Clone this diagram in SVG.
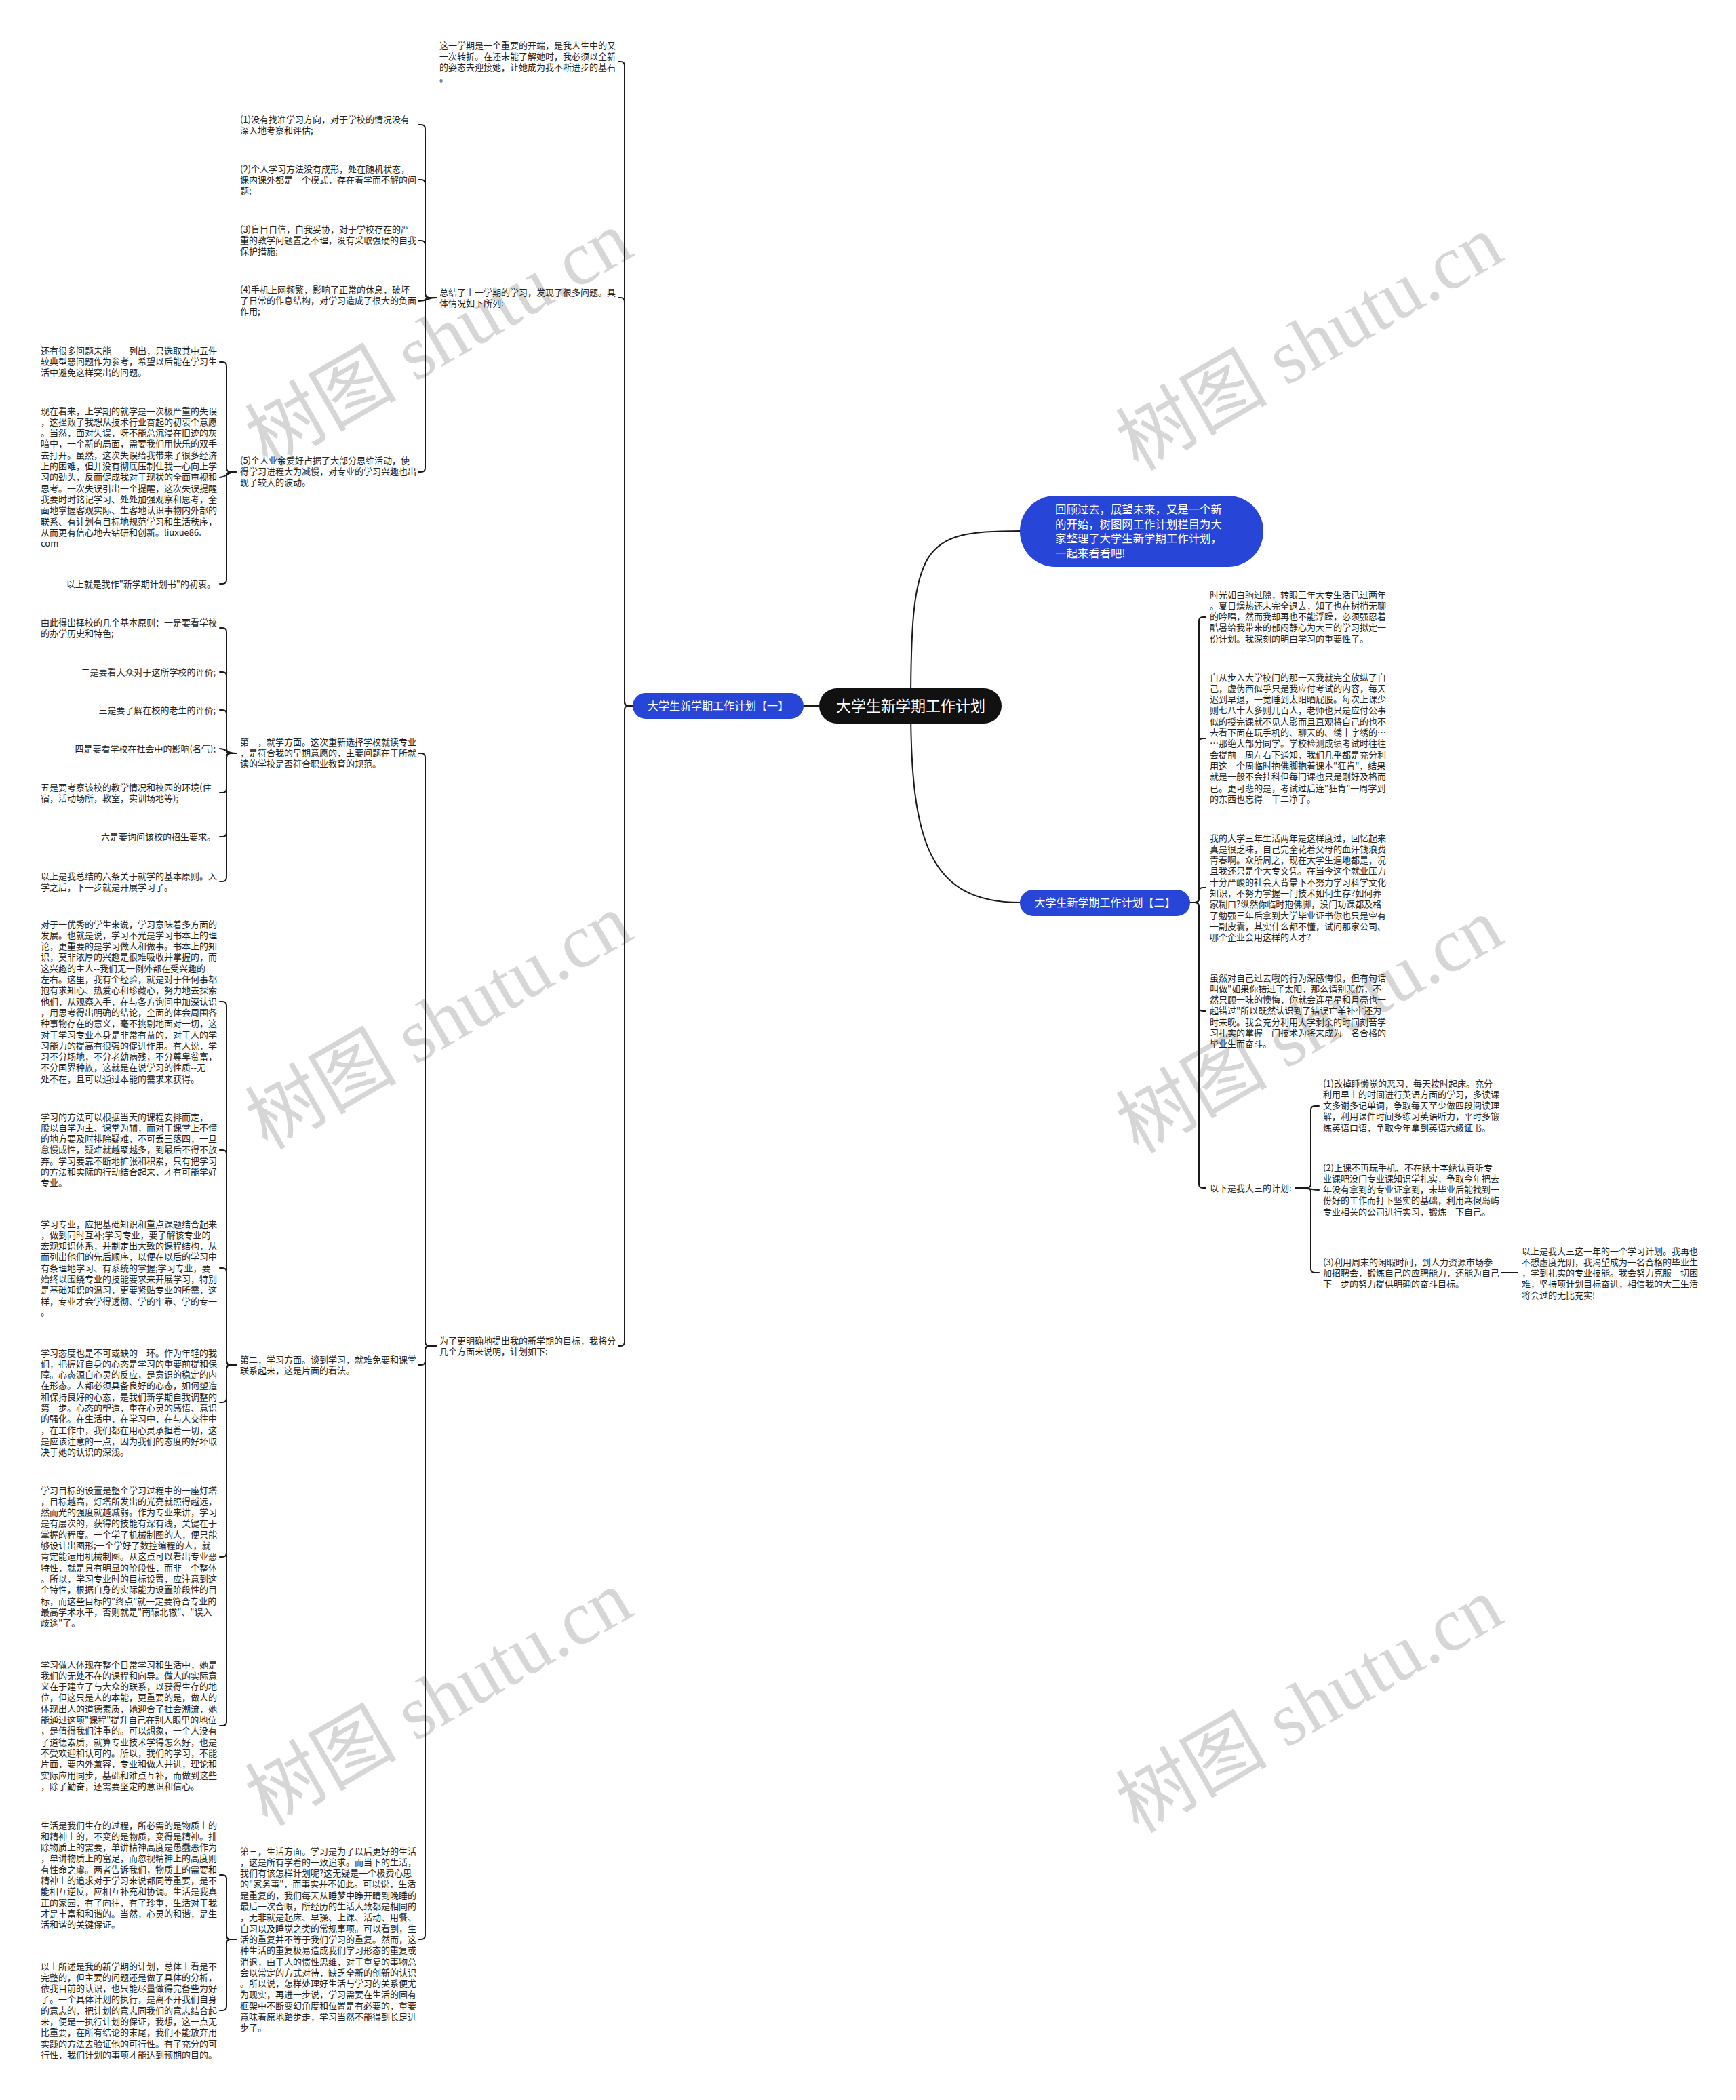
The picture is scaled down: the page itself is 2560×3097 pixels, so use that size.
<svg xmlns="http://www.w3.org/2000/svg" width="2560" height="3097" viewBox="0 0 2560 3097">
<style>
.bg{fill:#fff}
.wm{font-family:"Liberation Serif","Noto Sans CJK SC",serif;font-size:112px;fill:#d6d6d6;text-anchor:middle}
.t{font-family:"Noto Sans CJK SC","Liberation Sans",sans-serif;font-size:13px;fill:#222}
.e{text-anchor:end}
.c{fill:none;stroke:#1a1a1a;stroke-width:2;stroke-linecap:round}
.bn{fill:#2745d6}
.rn{fill:#111}
.bt{font-family:"Noto Sans CJK SC","Liberation Sans",sans-serif;font-size:16px;fill:#fff}
.rt{font-family:"Noto Sans CJK SC","Liberation Sans",sans-serif;font-size:22px;fill:#fff;text-anchor:middle}
</style>
<rect class="bg" x="0" y="0" width="2560" height="3097"/>
<g id="watermarks">
<text class="wm" x="646" y="538" transform="rotate(-30 646 498)">树图 shutu.cn</text>
<text class="wm" x="1930" y="544" transform="rotate(-30 1930 504)">树图 shutu.cn</text>
<text class="wm" x="646" y="1545" transform="rotate(-30 646 1505)">树图 shutu.cn</text>
<text class="wm" x="1930" y="1551" transform="rotate(-30 1930 1511)">树图 shutu.cn</text>
<text class="wm" x="646" y="2543" transform="rotate(-30 646 2503)">树图 shutu.cn</text>
<text class="wm" x="1930" y="2553" transform="rotate(-30 1930 2513)">树图 shutu.cn</text>
</g>
<g id="connectors">
<path class="c" d="M1208 1041 H1185"/>
<path class="c" d="M1343 1041 C1343 800 1360 783 1504 783"/>
<path class="c" d="M1343 1041 C1343 1240 1370 1331 1504 1331"/>
<path class="c" d="M933 1041 H927 Q921 1041 921 1035 V97 Q921 91 915 91 H912"/>
<path class="c" d="M933 1041 H927 Q921 1041 921 1035 V445 Q921 439 915 439 H912"/>
<path class="c" d="M933 1041 H927 Q921 1041 921 1047 V1979 Q921 1985 915 1985 H912"/>
<path class="c" d="M643 439 H633 Q627 439 627 433 V190 Q627 184 621 184 H617"/>
<path class="c" d="M643 439 H633 Q627 439 627 433 V271 Q627 265 621 265 H617"/>
<path class="c" d="M643 439 H633 Q627 439 627 433 V361 Q627 355 621 355 H617"/>
<path class="c" d="M643 439 C630 439 630 444 617 444"/>
<path class="c" d="M643 439 H633 Q627 439 627 445 V690 Q627 696 621 696 H617"/>
<path class="c" d="M348 696 H340 Q334 696 334 690 V540 Q334 534 328 534 H324"/>
<path class="c" d="M348 696 C334 696 334 704 324 704"/>
<path class="c" d="M348 696 H340 Q334 696 334 702 V855 Q334 861 328 861 H324"/>
<path class="c" d="M643 1985 H633 Q627 1985 627 1979 V1117 Q627 1111 621 1111 H617"/>
<path class="c" d="M643 1985 H633 Q627 1985 627 1991 V2007 Q627 2013 621 2013 H617"/>
<path class="c" d="M643 1985 H633 Q627 1985 627 1991 V2854 Q627 2860 621 2860 H617"/>
<path class="c" d="M348 1111 H340 Q334 1111 334 1105 V932 Q334 926 328 926 H324"/>
<path class="c" d="M348 1111 H340 Q334 1111 334 1105 V997 Q334 991 328 991 H324"/>
<path class="c" d="M348 1111 H340 Q334 1111 334 1105 V1053 Q334 1047 328 1047 H324"/>
<path class="c" d="M348 1111 C334 1111 334 1104 324 1104"/>
<path class="c" d="M348 1111 H340 Q334 1111 334 1117 V1163 Q334 1169 328 1169 H324"/>
<path class="c" d="M348 1111 H340 Q334 1111 334 1117 V1228 Q334 1234 328 1234 H324"/>
<path class="c" d="M348 1111 H340 Q334 1111 334 1117 V1294 Q334 1300 328 1300 H324"/>
<path class="c" d="M348 2013 H340 Q334 2013 334 2007 V1483 Q334 1477 328 1477 H324"/>
<path class="c" d="M348 2013 H340 Q334 2013 334 2007 V1702 Q334 1696 328 1696 H324"/>
<path class="c" d="M348 2013 H340 Q334 2013 334 2007 V1876 Q334 1870 328 1870 H324"/>
<path class="c" d="M348 2013 H340 Q334 2013 334 2019 V2062 Q334 2068 328 2068 H324"/>
<path class="c" d="M348 2013 H340 Q334 2013 334 2019 V2290 Q334 2296 328 2296 H324"/>
<path class="c" d="M348 2013 H340 Q334 2013 334 2019 V2539 Q334 2545 328 2545 H324"/>
<path class="c" d="M348 2860 H340 Q334 2860 334 2854 V2771 Q334 2765 328 2765 H324"/>
<path class="c" d="M348 2860 H340 Q334 2860 334 2866 V2959 Q334 2965 328 2965 H324"/>
<path class="c" d="M1755 1331 H1762 Q1768 1331 1768 1325 V916 Q1768 910 1774 910 H1778"/>
<path class="c" d="M1755 1331 H1762 Q1768 1331 1768 1325 V1095 Q1768 1089 1774 1089 H1778"/>
<path class="c" d="M1755 1331 H1762 Q1768 1331 1768 1325 V1315 Q1768 1309 1774 1309 H1778"/>
<path class="c" d="M1755 1331 H1762 Q1768 1331 1768 1337 V1485 Q1768 1491 1774 1491 H1778"/>
<path class="c" d="M1755 1331 H1762 Q1768 1331 1768 1337 V1746 Q1768 1752 1774 1752 H1778"/>
<path class="c" d="M1911 1752 H1927 Q1933 1752 1933 1746 V1637 Q1933 1631 1939 1631 H1945"/>
<path class="c" d="M1911 1752 C1933 1752 1933 1755 1945 1755"/>
<path class="c" d="M1911 1752 H1927 Q1933 1752 1933 1758 V1871 Q1933 1877 1939 1877 H1945"/>
<path class="c" d="M2214 1877 H2238"/>
</g>
<g id="root">
<rect class="rn" x="1208" y="1015" width="269" height="52" rx="26"/>
<text class="rt" x="1343" y="1049">大学生新学期工作计划</text>
</g>
<g id="intro">
<rect class="bn" x="1504" y="731" width="359" height="105" rx="52"/>
<text class="bt" x="1556" y="757" style="font-size:16.4px"><tspan x="1556">回顾过去，展望未来，又是一个新</tspan><tspan x="1556" dy="21.5">的开始，树图网工作计划栏目为大</tspan><tspan x="1556" dy="21.5">家整理了大学生新学期工作计划，</tspan><tspan x="1556" dy="21.5">一起来看看吧!</tspan></text>
</g>
<g id="plan1">
<rect class="bn" x="933" y="1022" width="252" height="38" rx="19"/>
<text class="bt" x="1059" y="1047" text-anchor="middle">大学生新学期工作计划【一】</text>
</g>
<g id="plan2">
<rect class="bn" x="1504" y="1312" width="251" height="39" rx="19.5"/>
<text class="bt" x="1629.5" y="1337" text-anchor="middle">大学生新学期工作计划【二】</text>
</g>
<g id="m1"><text class="t" x="648" y="71.5"><tspan x="648">这一学期是一个重要的开端，是我人生中的又</tspan><tspan x="648" dy="16.3">一次转折。在还未能了解她时，我必须以全新</tspan><tspan x="648" dy="16.3">的姿态去迎接她，让她成为我不断进步的基石</tspan><tspan x="648" dy="16.3">。</tspan></text></g>
<g id="m2"><text class="t" x="648" y="435.5"><tspan x="648">总结了上一学期的学习，发现了很多问题。具</tspan><tspan x="648" dy="16.3">体情况如下所列:</tspan></text></g>
<g id="m3"><text class="t" x="648" y="1981.5"><tspan x="648">为了更明确地提出我的新学期的目标，我将分</tspan><tspan x="648" dy="16.3">几个方面来说明，计划如下:</tspan></text></g>
<g id="i1"><text class="t" x="354" y="180.5"><tspan x="354">(1)没有找准学习方向，对于学校的情况没有</tspan><tspan x="354" dy="16.3">深入地考察和评估;</tspan></text></g>
<g id="i2"><text class="t" x="354" y="253.5"><tspan x="354">(2)个人学习方法没有成形，处在随机状态，</tspan><tspan x="354" dy="16.3">课内课外都是一个模式，存在着学而不解的问</tspan><tspan x="354" dy="16.3">题;</tspan></text></g>
<g id="i3"><text class="t" x="354" y="342.5"><tspan x="354">(3)盲目自信，自我妥协，对于学校存在的严</tspan><tspan x="354" dy="16.3">重的教学问题置之不理，没有采取强硬的自我</tspan><tspan x="354" dy="16.3">保护措施;</tspan></text></g>
<g id="i4"><text class="t" x="354" y="431.5"><tspan x="354">(4)手机上网频繁，影响了正常的休息，破坏</tspan><tspan x="354" dy="16.3">了日常的作息结构，对学习造成了很大的负面</tspan><tspan x="354" dy="16.3">作用;</tspan></text></g>
<g id="i5"><text class="t" x="354" y="683.5"><tspan x="354">(5)个人业余爱好占据了大部分思维活动，使</tspan><tspan x="354" dy="16.3">得学习进程大为减慢，对专业的学习兴趣也出</tspan><tspan x="354" dy="16.3">现了较大的波动。</tspan></text></g>
<g id="f1"><text class="t" x="60" y="521.5"><tspan x="60">还有很多问题未能一一列出，只选取其中五件</tspan><tspan x="60" dy="16.3">较典型恶问题作为参考，希望以后能在学习生</tspan><tspan x="60" dy="16.3">活中避免这样突出的问题。</tspan></text></g>
<g id="f2"><text class="t" x="60" y="610.5"><tspan x="60">现在看来，上学期的就学是一次极严重的失误</tspan><tspan x="60" dy="16.3">，这挫败了我想从技术行业奋起的初衷个意愿</tspan><tspan x="60" dy="16.3">。当然，面对失误，呀不能总沉浸在旧迹的灰</tspan><tspan x="60" dy="16.3">暗中，一个新的局面，需要我们用快乐的双手</tspan><tspan x="60" dy="16.3">去打开。虽然，这次失误给我带来了很多经济</tspan><tspan x="60" dy="16.3">上的困难，但并没有彻底压制住我一心向上学</tspan><tspan x="60" dy="16.3">习的劲头，反而促成我对于现状的全面审视和</tspan><tspan x="60" dy="16.3">思考。一次失误引出一个提醒，这次失误提醒</tspan><tspan x="60" dy="16.3">我要时时铭记学习、处处加强观察和思考，全</tspan><tspan x="60" dy="16.3">面地掌握客观实际、生客地认识事物内外部的</tspan><tspan x="60" dy="16.3">联系、有计划有目标地规范学习和生活秩序，</tspan><tspan x="60" dy="16.3">从而更有信心地去钻研和创新。liuxue86.</tspan><tspan x="60" dy="16.3">com</tspan></text></g>
<g id="f3"><text class="t e" x="318" y="865.5">以上就是我作"新学期计划书"的初衷。</text></g>
<g id="s1"><text class="t" x="354" y="1098.5"><tspan x="354">第一，就学方面。这次重新选择学校就读专业</tspan><tspan x="354" dy="16.3">，是符合我的早期意愿的，主要问题在于所就</tspan><tspan x="354" dy="16.3">读的学校是否符合职业教育的规范。</tspan></text></g>
<g id="p1"><text class="t" x="60" y="922.5"><tspan x="60">由此得出择校的几个基本原则：一是要看学校</tspan><tspan x="60" dy="16.3">的办学历史和特色;</tspan></text></g>
<g id="p2"><text class="t e" x="318" y="995.5">二是要看大众对于这所学校的评价;</text></g>
<g id="p3"><text class="t e" x="318" y="1051.5">三是要了解在校的老生的评价;</text></g>
<g id="p4"><text class="t e" x="318" y="1108.5">四是要看学校在社会中的影响(名气);</text></g>
<g id="p5"><text class="t" x="60" y="1165.5"><tspan x="60">五是要考察该校的教学情况和校园的环境(住</tspan><tspan x="60" dy="16.3">宿，活动场所，教室，实训场地等);</tspan></text></g>
<g id="p6"><text class="t e" x="318" y="1238.5">六是要询问该校的招生要求。</text></g>
<g id="p7"><text class="t" x="60" y="1296.5"><tspan x="60">以上是我总结的六条关于就学的基本原则。入</tspan><tspan x="60" dy="16.3">学之后，下一步就是开展学习了。</tspan></text></g>
<g id="s2"><text class="t" x="354" y="2009.5"><tspan x="354">第二，学习方面。谈到学习，就难免要和课堂</tspan><tspan x="354" dy="16.3">联系起来，这是片面的看法。</tspan></text></g>
<g id="l1"><text class="t" x="60" y="1367.5"><tspan x="60">对于一优秀的学生来说，学习意味着多方面的</tspan><tspan x="60" dy="16.3">发展。也就是说，学习不光是学习书本上的理</tspan><tspan x="60" dy="16.3">论，更重要的是学习做人和做事。书本上的知</tspan><tspan x="60" dy="16.3">识，莫非浓厚的兴趣是很难吸收并掌握的，而</tspan><tspan x="60" dy="16.3">这兴趣的主人--我们无一例外都在受兴趣的</tspan><tspan x="60" dy="16.3">左右。这里，我有个经验，就是对于任何事都</tspan><tspan x="60" dy="16.3">抱有求知心、热爱心和珍藏心，努力地去探索</tspan><tspan x="60" dy="16.3">他们，从观察入手，在与各方询问中加深认识</tspan><tspan x="60" dy="16.3">，用思考得出明确的结论，全面的体会周围各</tspan><tspan x="60" dy="16.3">种事物存在的意义，毫不挑剔地面对一切，这</tspan><tspan x="60" dy="16.3">对于学习专业本身是非常有益的，对于人的学</tspan><tspan x="60" dy="16.3">习能力的提高有很强的促进作用。有人说，学</tspan><tspan x="60" dy="16.3">习不分场地，不分老幼病残，不分尊卑贫富，</tspan><tspan x="60" dy="16.3">不分国界种族，这就是在说学习的性质--无</tspan><tspan x="60" dy="16.3">处不在，且可以通过本能的需求来获得。</tspan></text></g>
<g id="l2"><text class="t" x="60" y="1651.5"><tspan x="60">学习的方法可以根据当天的课程安排而定，一</tspan><tspan x="60" dy="16.3">般以自学为主、课堂为辅，而对于课堂上不懂</tspan><tspan x="60" dy="16.3">的地方要及时排除疑难，不可丢三落四，一旦</tspan><tspan x="60" dy="16.3">怠慢成性，疑难就越聚越多，到最后不得不放</tspan><tspan x="60" dy="16.3">弃。学习要靠不断地扩张和积累，只有把学习</tspan><tspan x="60" dy="16.3">的方法和实际的行动结合起来，才有可能学好</tspan><tspan x="60" dy="16.3">专业。</tspan></text></g>
<g id="l3"><text class="t" x="60" y="1809.5"><tspan x="60">学习专业，应把基础知识和重点课题结合起来</tspan><tspan x="60" dy="16.3">，做到同时互补;学习专业，要了解该专业的</tspan><tspan x="60" dy="16.3">宏观知识体系，并制定出大致的课程结构，从</tspan><tspan x="60" dy="16.3">而列出他们的先后顺序，以便在以后的学习中</tspan><tspan x="60" dy="16.3">有条理地学习、有系统的掌握;学习专业，要</tspan><tspan x="60" dy="16.3">始终以围绕专业的技能要求来开展学习，特别</tspan><tspan x="60" dy="16.3">是基础知识的温习，更要紧贴专业的所需，这</tspan><tspan x="60" dy="16.3">样，专业才会学得透彻、学的牢靠、学的专一</tspan><tspan x="60" dy="16.3">。</tspan></text></g>
<g id="l4"><text class="t" x="60" y="1999.5"><tspan x="60">学习态度也是不可或缺的一环。作为年轻的我</tspan><tspan x="60" dy="16.3">们，把握好自身的心态是学习的重要前提和保</tspan><tspan x="60" dy="16.3">障。心态源自心灵的反应，是意识的稳定的内</tspan><tspan x="60" dy="16.3">在形态。人都必须具备良好的心态，如何塑造</tspan><tspan x="60" dy="16.3">和保持良好的心态，是我们新学期自我调整的</tspan><tspan x="60" dy="16.3">第一步。心态的塑造，重在心灵的感悟、意识</tspan><tspan x="60" dy="16.3">的强化。在生活中，在学习中，在与人交往中</tspan><tspan x="60" dy="16.3">，在工作中，我们都在用心灵承担着一切，这</tspan><tspan x="60" dy="16.3">是应该注意的一点，因为我们的态度的好坏取</tspan><tspan x="60" dy="16.3">决于她的认识的深浅。</tspan></text></g>
<g id="l5"><text class="t" x="60" y="2202.5"><tspan x="60">学习目标的设置是整个学习过程中的一座灯塔</tspan><tspan x="60" dy="16.3">，目标越高，灯塔所发出的光亮就照得越远，</tspan><tspan x="60" dy="16.3">然而光的强度就越减弱。作为专业来讲，学习</tspan><tspan x="60" dy="16.3">是有层次的，获得的技能有深有浅，关键在于</tspan><tspan x="60" dy="16.3">掌握的程度。一个学了机械制图的人，便只能</tspan><tspan x="60" dy="16.3">够设计出图形;一个学好了数控编程的人，就</tspan><tspan x="60" dy="16.3">肯定能运用机械制图。从这点可以看出专业恶</tspan><tspan x="60" dy="16.3">特性，就是具有明显的阶段性，而非一个整体</tspan><tspan x="60" dy="16.3">。所以，学习专业时的目标设置，应注意到这</tspan><tspan x="60" dy="16.3">个特性，根据自身的实际能力设置阶段性的目</tspan><tspan x="60" dy="16.3">标，而这些目标的"终点"就一定要符合专业的</tspan><tspan x="60" dy="16.3">最高学术水平，否则就是"南辕北辙"、"误入</tspan><tspan x="60" dy="16.3">歧途"了。</tspan></text></g>
<g id="l6"><text class="t" x="60" y="2459.5"><tspan x="60">学习做人体现在整个日常学习和生活中，她是</tspan><tspan x="60" dy="16.3">我们的无处不在的课程和向导。做人的实际意</tspan><tspan x="60" dy="16.3">义在于建立了与大众的联系，以获得生存的地</tspan><tspan x="60" dy="16.3">位，但这只是人的本能，更重要的是，做人的</tspan><tspan x="60" dy="16.3">体现出人的道德素质，她迎合了社会潮流，她</tspan><tspan x="60" dy="16.3">能通过这项"课程"提升自己在别人眼里的地位</tspan><tspan x="60" dy="16.3">，是值得我们注重的。可以想象，一个人没有</tspan><tspan x="60" dy="16.3">了道德素质，就算专业技术学得怎么好，也是</tspan><tspan x="60" dy="16.3">不受欢迎和认可的。所以，我们的学习，不能</tspan><tspan x="60" dy="16.3">片面，要内外兼容，专业和做人并进，理论和</tspan><tspan x="60" dy="16.3">实际应用同步，基础和难点互补，而做到这些</tspan><tspan x="60" dy="16.3">，除了勤奋，还需要坚定的意识和信心。</tspan></text></g>
<g id="s3"><text class="t" x="354" y="2734.5"><tspan x="354">第三，生活方面。学习是为了以后更好的生活</tspan><tspan x="354" dy="16.3">，这是所有学着的一致追求。而当下的生活，</tspan><tspan x="354" dy="16.3">我们有该怎样计划呢?这无疑是一个极费心思</tspan><tspan x="354" dy="16.3">的"家务事"，而事实并不如此。可以说，生活</tspan><tspan x="354" dy="16.3">是重复的，我们每天从睡梦中睁开睛到晚睡的</tspan><tspan x="354" dy="16.3">最后一次合眼，所经历的生活大致都是相同的</tspan><tspan x="354" dy="16.3">，无非就是起床、早操、上课、活动、用餐、</tspan><tspan x="354" dy="16.3">自习以及睡觉之类的常规事项。可以看到，生</tspan><tspan x="354" dy="16.3">活的重复并不等于我们学习的重复。然而，这</tspan><tspan x="354" dy="16.3">种生活的重复极易造成我们学习形态的重复或</tspan><tspan x="354" dy="16.3">消退，由于人的惯性思维，对于重复的事物总</tspan><tspan x="354" dy="16.3">会以常定的方式对待，缺乏全新的创新的认识</tspan><tspan x="354" dy="16.3">。所以说，怎样处理好生活与学习的关系便尤</tspan><tspan x="354" dy="16.3">为现实，再进一步说，学习需要在生活的固有</tspan><tspan x="354" dy="16.3">框架中不断变幻角度和位置是有必要的，重要</tspan><tspan x="354" dy="16.3">意味着原地踏步走，学习当然不能得到长足进</tspan><tspan x="354" dy="16.3">步了。</tspan></text></g>
<g id="t1"><text class="t" x="60" y="2696.5"><tspan x="60">生活是我们生存的过程，所必需的是物质上的</tspan><tspan x="60" dy="16.3">和精神上的，不变的是物质，变得是精神。排</tspan><tspan x="60" dy="16.3">除物质上的需要，单讲精神高度是愚蠢恶作为</tspan><tspan x="60" dy="16.3">，单讲物质上的富足，而忽视精神上的高度则</tspan><tspan x="60" dy="16.3">有性命之虞。两者告诉我们，物质上的需要和</tspan><tspan x="60" dy="16.3">精神上的追求对于学习来说都同等重要，是不</tspan><tspan x="60" dy="16.3">能相互逆反，应相互补充和协调。生活是我真</tspan><tspan x="60" dy="16.3">正的家园，有了向往，有了珍重，生活对于我</tspan><tspan x="60" dy="16.3">才是丰富和和谐的。当然，心灵的和谐，是生</tspan><tspan x="60" dy="16.3">活和谐的关键保证。</tspan></text></g>
<g id="t2"><text class="t" x="60" y="2904.5"><tspan x="60">以上所述是我的新学期的计划，总体上看是不</tspan><tspan x="60" dy="16.3">完整的，但主要的问题还是做了具体的分析，</tspan><tspan x="60" dy="16.3">依我目前的认识，也只能尽量做得完备些为好</tspan><tspan x="60" dy="16.3">了。一个具体计划的执行，是离不开我们自身</tspan><tspan x="60" dy="16.3">的意志的，把计划的意志同我们的意志结合起</tspan><tspan x="60" dy="16.3">来，便是一执行计划的保证，我想，这一点无</tspan><tspan x="60" dy="16.3">比重要，在所有结论的末尾，我们不能放弃用</tspan><tspan x="60" dy="16.3">实践的方法去验证他的可行性。有了充分的可</tspan><tspan x="60" dy="16.3">行性，我们计划的事项才能达到预期的目的。</tspan></text></g>
<g id="r1"><text class="t" x="1784" y="881.5"><tspan x="1784">时光如白驹过隙，转眼三年大专生活已过两年</tspan><tspan x="1784" dy="16.3">。夏日燥热还未完全退去，知了也在树梢无聊</tspan><tspan x="1784" dy="16.3">的吟唱，然而我却再也不能浮躁，必须强忍着</tspan><tspan x="1784" dy="16.3">酷暑给我带来的郁闷静心为大三的学习拟定一</tspan><tspan x="1784" dy="16.3">份计划。我深刻的明白学习的重要性了。</tspan></text></g>
<g id="r2"><text class="t" x="1784" y="1003.5"><tspan x="1784">自从步入大学校门的那一天我就完全放纵了自</tspan><tspan x="1784" dy="16.3">己，虚伪西似乎只是我应付考试的内容，每天</tspan><tspan x="1784" dy="16.3">迟到早退，一觉睡到太阳晒屁股。每次上课少</tspan><tspan x="1784" dy="16.3">则七八十人多则几百人，老师也只是应付公事</tspan><tspan x="1784" dy="16.3">似的授完课就不见人影而且直观将自己的也不</tspan><tspan x="1784" dy="16.3">去看下面在玩手机的、聊天的、绣十字绣的…</tspan><tspan x="1784" dy="16.3">…那绝大部分同学。学校检测成绩考试时往往</tspan><tspan x="1784" dy="16.3">会提前一周左右下通知，我们几乎都是充分利</tspan><tspan x="1784" dy="16.3">用这一个周临时抱佛脚抱着课本"狂肯"，结果</tspan><tspan x="1784" dy="16.3">就是一般不会挂科但每门课也只是刚好及格而</tspan><tspan x="1784" dy="16.3">已。更可悲的是，考试过后连"狂肯"一周学到</tspan><tspan x="1784" dy="16.3">的东西也忘得一干二净了。</tspan></text></g>
<g id="r3"><text class="t" x="1784" y="1240.5"><tspan x="1784">我的大学三年生活两年是这样度过，回忆起来</tspan><tspan x="1784" dy="16.3">真是很乏味，自己完全花着父母的血汗钱浪费</tspan><tspan x="1784" dy="16.3">青春啊。众所周之，现在大学生遍地都是，况</tspan><tspan x="1784" dy="16.3">且我还只是个大专文凭。在当今这个就业压力</tspan><tspan x="1784" dy="16.3">十分严峻的社会大背景下不努力学习科学文化</tspan><tspan x="1784" dy="16.3">知识，不努力掌握一门技术如何生存?如何养</tspan><tspan x="1784" dy="16.3">家糊口?纵然你临时抱佛脚，没门功课都及格</tspan><tspan x="1784" dy="16.3">了勉强三年后拿到大学毕业证书你也只是空有</tspan><tspan x="1784" dy="16.3">一副皮囊，其实什么都不懂，试问那家公司、</tspan><tspan x="1784" dy="16.3">哪个企业会用这样的人才?</tspan></text></g>
<g id="r4"><text class="t" x="1784" y="1446.5"><tspan x="1784">虽然对自己过去哦的行为深感悔恨，但有句话</tspan><tspan x="1784" dy="16.3">叫做"如果你错过了太阳，那么请别悲伤，不</tspan><tspan x="1784" dy="16.3">然只顾一味的懊悔，你就会连星星和月亮也一</tspan><tspan x="1784" dy="16.3">起错过"所以既然认识到了错误亡羊补牢还为</tspan><tspan x="1784" dy="16.3">时未晚。我会充分利用大学剩余的时间刻苦学</tspan><tspan x="1784" dy="16.3">习扎实的掌握一门技术为将来成为一名合格的</tspan><tspan x="1784" dy="16.3">毕业生而奋斗。</tspan></text></g>
<g id="r5"><text class="t" x="1784" y="1756.5">以下是我大三的计划:</text></g>
<g id="q1"><text class="t" x="1951" y="1602.5"><tspan x="1951">(1)改掉睡懒觉的恶习，每天按时起床。充分</tspan><tspan x="1951" dy="16.3">利用早上的时间进行英语方面的学习，多读课</tspan><tspan x="1951" dy="16.3">文多谢多记单词，争取每天至少做四段阅读理</tspan><tspan x="1951" dy="16.3">解，利用课件时间多练习英语听力，平时多锻</tspan><tspan x="1951" dy="16.3">炼英语口语，争取今年拿到英语六级证书。</tspan></text></g>
<g id="q2"><text class="t" x="1951" y="1726.5"><tspan x="1951">(2)上课不再玩手机、不在绣十字绣认真听专</tspan><tspan x="1951" dy="16.3">业课吧没门专业课知识学扎实，争取今年把去</tspan><tspan x="1951" dy="16.3">年没有拿到的专业证拿到，未毕业后能找到一</tspan><tspan x="1951" dy="16.3">份好的工作而打下坚实的基础，利用寒假岛屿</tspan><tspan x="1951" dy="16.3">专业相关的公司进行实习，锻炼一下自己。</tspan></text></g>
<g id="q3"><text class="t" x="1951" y="1865.5"><tspan x="1951">(3)利用周末的闲暇时间，到人力资源市场参</tspan><tspan x="1951" dy="16.3">加招聘会，锻炼自己的应聘能力，还能为自己</tspan><tspan x="1951" dy="16.3">下一步的努力提供明确的奋斗目标。</tspan></text></g>
<g id="q4"><text class="t" x="2244" y="1849.5"><tspan x="2244">以上是我大三这一年的一个学习计划。我再也</tspan><tspan x="2244" dy="16.3">不想虚度光阴，我渴望成为一名合格的毕业生</tspan><tspan x="2244" dy="16.3">，学到扎实的专业技能。我会努力克服一切困</tspan><tspan x="2244" dy="16.3">难，坚持项计划目标奋进，相信我的大三生活</tspan><tspan x="2244" dy="16.3">将会过的无比充实!</tspan></text></g>
</svg>
